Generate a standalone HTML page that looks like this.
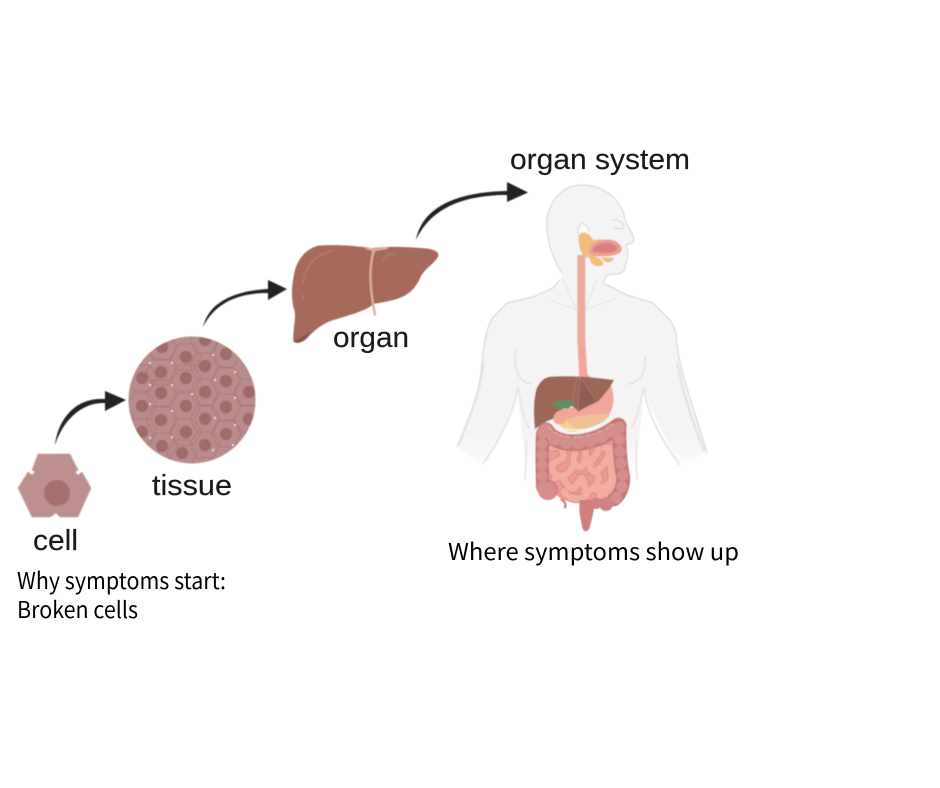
<!DOCTYPE html>
<html>
<head>
<meta charset="utf-8">
<style>
html,body{margin:0;padding:0;background:#fff;width:940px;height:788px;overflow:hidden}
svg{display:block}
.l{font-family:"Liberation Sans",sans-serif;font-size:29px;fill:#1a1a1a;stroke:#1a1a1a;stroke-width:.15}
.n{font-family:"Noto Sans CJK JP","Liberation Sans",sans-serif;font-size:23px;fill:#000}
</style>
</head>
<body>
<svg width="940" height="788" viewBox="0 0 940 788" xmlns="http://www.w3.org/2000/svg">
<defs>
<linearGradient id="fade" x1="0" y1="0" x2="0" y2="1">
<stop offset="0" stop-color="#f4f4f4"/><stop offset=".84" stop-color="#f4f4f4"/><stop offset="1" stop-color="#fff"/>
</linearGradient>
<clipPath id="tc"><circle cx="192" cy="400" r="63.5"/></clipPath>
<polygon id="hx" points="-15,0 -8,-13 8,-13 15,0 8,13 -8,13" fill="none" stroke="#a87b7a" stroke-width=".9"/>
<circle id="nu" r="6.2" fill="#a06c6b"/>
<filter id="sb"><feGaussianBlur stdDeviation="0.45"/></filter>
<filter id="bb" x="-50%" y="-50%" width="200%" height="200%"><feGaussianBlur stdDeviation="3"/></filter>
</defs>

<g filter="url(#sb)">
<!-- Arrows -->
<g fill="#222">
<path d="M55 445C58 420 75 397 105 399L105 391 126 400 105 411 105 403C82 402 63 420 55 445Z"/>
<path d="M203 327C208 305 230 291 268 289L268 280 287 289 268 300 268 293C235 293 214 305 203 327Z"/>
<path d="M416 240C422 208 455 192 507 191L507 182 528 192.500 507 202 507 195C460 195 430 210 416 240Z"/>
</g>

<!-- Cell -->
<path d="M38 454H70L78 470 75 472 78 475 82 472 91 488 78 517H60L56 513 50 517H32L18 488 28 472 32 475 35 472 32 470Z" fill="#bd8f8e" stroke="#c9a3a2" stroke-width="1" stroke-dasharray="2 1"/>
<circle cx="57" cy="493" r="13" fill="#a5716f"/>

<!-- Tissue -->
<circle cx="192" cy="400" r="63.500" fill="#b98c8b"/>
<g clip-path="url(#tc)">
<use href="#hx" x="162" y="347"/><use href="#hx" x="205" y="340"/><use href="#hx" x="186" y="357"/><use href="#hx" x="226" y="354"/>
<use href="#hx" x="205" y="366"/><use href="#hx" x="161" y="372"/><use href="#hx" x="142" y="378"/><use href="#hx" x="186" y="378"/>
<use href="#hx" x="226" y="381"/><use href="#hx" x="161" y="393"/><use href="#hx" x="205" y="392"/><use href="#hx" x="249" y="392"/>
<use href="#hx" x="142" y="406"/><use href="#hx" x="186" y="406"/><use href="#hx" x="226" y="407"/><use href="#hx" x="205" y="419"/>
<use href="#hx" x="161" y="420"/><use href="#hx" x="249" y="419"/><use href="#hx" x="142" y="432"/><use href="#hx" x="186" y="432"/>
<use href="#hx" x="226" y="434"/><use href="#hx" x="205" y="445"/><use href="#hx" x="162" y="446"/><use href="#hx" x="182" y="453"/>
<use href="#nu" x="162" y="347"/><use href="#nu" x="205" y="340"/><use href="#nu" x="186" y="357"/><use href="#nu" x="226" y="354"/>
<use href="#nu" x="205" y="366"/><use href="#nu" x="161" y="372"/><use href="#nu" x="142" y="378"/><use href="#nu" x="186" y="378"/>
<use href="#nu" x="226" y="381"/><use href="#nu" x="161" y="393"/><use href="#nu" x="205" y="392"/><use href="#nu" x="249" y="392"/>
<use href="#nu" x="142" y="406"/><use href="#nu" x="186" y="406"/><use href="#nu" x="226" y="407"/><use href="#nu" x="205" y="419"/>
<use href="#nu" x="161" y="420"/><use href="#nu" x="249" y="419"/><use href="#nu" x="142" y="432"/><use href="#nu" x="186" y="432"/>
<use href="#nu" x="226" y="434"/><use href="#nu" x="205" y="445"/><use href="#nu" x="162" y="446"/><use href="#nu" x="182" y="453"/>
</g>
<g fill="#f4eeee">
<circle cx="150" cy="363" r="1"/><circle cx="172" cy="363" r="1"/><circle cx="150" cy="385" r="1"/><circle cx="172" cy="385" r="1"/>
<circle cx="213" cy="355" r="1"/><circle cx="235" cy="372" r="1"/><circle cx="215" cy="380" r="1"/><circle cx="235" cy="398" r="1"/>
<circle cx="150" cy="404" r="1"/><circle cx="172" cy="411" r="1"/><circle cx="192" cy="394" r="1"/><circle cx="215" cy="418" r="1"/>
<circle cx="235" cy="425" r="1"/><circle cx="150" cy="438" r="1"/><circle cx="172" cy="437" r="1"/><circle cx="213" cy="450" r="1"/><circle cx="233" cy="445" r="1"/>
</g>

<!-- Big liver -->
<g transform="translate(190,180) scale(.33333)">
<path d="M385 197C440 193 500 197 545 205 590 198 650 200 705 205 730 207 748 215 745 228 735 250 705 265 692 290 680 320 660 345 620 357 595 365 570 368 550 372 530 392 480 405 430 420 395 432 375 450 350 475 335 490 315 492 310 483 308 450 318 420 314 395 303 360 303 320 315 270 325 235 350 205 385 197Z" fill="#a66a5d"/>
<path d="M350 475C335 490 315 492 310 483 330 478 345 465 365 450Z" fill="#8f5247"/>
<path d="M530 204 550 210 590 204M552 210C535 265 540 330 555 404" fill="none" stroke="#deb195" stroke-width="7" stroke-linecap="round"/>
<path d="M340 310C345 260 375 222 432 212M340 345V362M578 240C585 228 598 222 612 222" fill="none" stroke="#b5806f" stroke-width="3.500" stroke-linecap="round"/>
</g>

<!-- Human body -->
<path d="M582 185C600 185 617 195 624 214 625 222 628 226 630 230 634 236 635 240 632 243L626 245 628 253C627 258 627 262 625 265 626 270 622 274 616 274 610 274 606 273 603 283L627 295 653 303 670 320C675 327 677 335 677 345 680 372 693 405 707 453L680 467C668 440 650 412 644 388 642 415 637 450 637 482H525C525 450 520 420 517 388 512 415 495 445 482 465L457 447C470 415 478 395 481 372 483 350 485 330 493 317L507 303 533 297 553 288 560 280 562 273C552 258 545 235 547 218 551 198 564 185 582 185Z" fill="url(#fade)"/>
<g fill="none" stroke="#d2d2d2" stroke-width="1">
<path d="M562 273C552 258 545 235 547 218 551 198 564 185 582 185 600 185 617 195 624 214 625 222 628 226 630 230 634 236 635 240 632 243L626 245 628 253C627 258 627 262 625 265 626 270 622 274 616 274 610 274 606 273 603 283"/>
<path d="M560 280 553 288 533 297 507 303 493 317C485 330 483 350 481 372 478 395 470 415 457 447"/>
<path d="M603 283 627 295 653 303 670 320C675 327 677 335 677 345 680 372 693 405 707 453"/>
<path d="M612 220C618 219 622 222 624 226M614 226C617 230 621 229 624 228"/>
</g>
<path d="M563 279 577 310 550 300M597 279 585 310 617 298" fill="none" stroke="#e2e2e2" stroke-width="1"/>
<path d="M580 240C574 222 586 218 589 232" fill="#fbfbfb" stroke="#d4d4d4" stroke-width="1"/>
<g transform="translate(440,340) scale(.33333)" fill="none" stroke="#e2e2e2" stroke-linecap="round">
<path d="M225 30C222 60 230 100 238 108 248 125 260 130 272 130" stroke-width="5"/>
<path d="M615 50C618 80 610 105 602 112 590 125 578 130 565 132" stroke-width="5"/>
<path d="M130 70C125 130 100 210 55 315" stroke-width="7"/>
<path d="M712 70C725 140 750 230 792 330" stroke-width="7"/>
<path d="M232 145C225 210 180 300 130 370" stroke-width="5"/>
<path d="M612 145C620 220 670 310 720 375" stroke-width="5"/>
<path d="M235 145C245 200 255 250 268 265M258 300C262 340 255 380 255 420M610 145C600 200 590 240 575 262M590 300C585 340 592 380 590 420" stroke-width="4"/>
</g>
<path d="M450 455 486 473M678 473 714 458" stroke="#fff" stroke-width="12" filter="url(#bb)"/>

<!-- Mouth, glands -->
<g transform="translate(440,140) scale(.33333)">
<path d="M420 282C435 270 450 285 460 300 490 295 530 300 545 322 550 340 530 350 480 350 450 350 440 355 435 350 420 340 410 300 420 282Z" fill="#f0bd7d"/>
<path d="M448 340C445 312 475 298 505 298 535 300 550 320 542 335 530 348 465 352 448 340Z" fill="#eaa09a"/>
<path d="M458 334C458 318 480 308 505 308 525 310 535 322 530 332 510 340 480 340 458 334Z" fill="#dc7f80"/>
<path d="M447 352C465 345 485 355 490 370 488 382 465 380 455 370ZM482 352 522 354C520 365 505 370 495 365Z" fill="#f0bd7d"/>
<path d="M424 345V610" fill="none" stroke="#efaaa0" stroke-width="24"/>
</g>

<!-- Digestive -->
<g transform="translate(440,340) scale(.33333)">
<path d="M412 0H436L442 100C445 110 452 115 510 130 525 160 525 200 505 225 480 255 410 270 375 255 350 250 338 225 350 210 370 205 420 205 445 180 425 150 415 120 417 100Z" fill="#f0a79a"/>
<path d="M358 252C385 228 450 222 510 222 500 250 440 270 400 272 385 272 365 265 358 252Z" fill="#f1c195"/>
<path d="M355 250C365 232 372 235 378 238 385 255 405 265 420 270 400 282 370 272 355 250Z" fill="#f0d586"/>
<path d="M330 110C390 107 450 110 522 120 510 145 490 165 475 185 455 190 430 200 415 215L400 200C380 195 360 205 345 235 325 240 305 250 285 268 280 220 280 180 290 145 300 125 312 113 330 110Z" fill="#9c6658"/>
<path d="M410 112C405 140 400 165 395 195M420 112 472 185 414 215Z" fill="#8a5a4f" stroke="#b79070" stroke-width="1.500" fill-opacity=".7"/>
<path d="M340 195C345 178 375 178 395 185 395 200 380 210 350 205Z" fill="#5d8e65"/>
<path d="M380 205 405 185" stroke="#5d8e65" stroke-width="7" fill="none"/>
<path d="M340 240C340 215 360 205 385 210 380 225 370 235 378 245 365 255 345 258 340 240Z" fill="#f0a79a"/>

<!-- small intestine -->
<path d="M325 310C380 300 460 300 535 300 545 350 565 410 530 460 500 490 430 490 370 480 330 460 315 400 320 340Z" fill="#ec9c91"/>
<g fill="none" stroke-linecap="round" stroke-linejoin="round" stroke="#e08a80" stroke-width="28">
<path id="a" d="M338 322C358 308 382 345 366 356S326 366 340 394 385 405 395 385"/>
<path id="b" d="M395 322C420 332 386 356 410 376S440 346 435 325"/>
<path id="c" d="M472 322C482 350 446 350 450 380S490 385 505 350 495 325 495 325"/>
<path id="d" d="M522 325C535 350 505 370 515 400S495 440 470 450"/>
<path id="e" d="M345 415C375 396 375 440 395 445S420 396 430 420 425 465 450 450 482 412 470 400"/>
<path id="f" d="M372 456C390 480 420 480 440 466M480 466C500 466 520 450 527 420"/>
</g>
<g fill="none" stroke="#f3aca0" stroke-width="21" stroke-linecap="round" stroke-linejoin="round">
<use href="#a"/><use href="#b"/><use href="#c"/><use href="#d"/><use href="#e"/><use href="#f"/>
</g>

<!-- colon -->
<circle cx="324" cy="450" r="30" fill="#cf7f7e"/>
<path d="M420 480H460C466 510 456 530 450 560 446 578 430 580 426 560 422 530 414 510 420 480Z" fill="#cf7f7e"/>
<path d="M362 478C372 482 380 490 374 505" fill="none" stroke="#cf7f7e" stroke-width="7"/>
<g fill="none" stroke-linecap="round" stroke-linejoin="round">
<path d="M318 272C345 320 450 325 535 258" stroke="#c67876" stroke-width="50"/>
<path d="M308 280C304 340 307 400 308 440" stroke="#c67876" stroke-width="40"/>
<path d="M538 262C538 320 540 370 550 410 550 440 540 465 522 478" stroke="#c67876" stroke-width="42"/>
<path d="M318 272C345 320 450 325 535 258" stroke="#d68e8b" stroke-width="42" stroke-dasharray="0 36"/>
<path d="M308 280C304 340 307 400 308 440" stroke="#d68e8b" stroke-width="33" stroke-dasharray="0 32"/>
<path d="M538 262C538 320 540 370 550 410 550 440 540 465 522 478" stroke="#d68e8b" stroke-width="35" stroke-dasharray="0 36"/>
<path d="M325 262C360 302 450 304 525 250" stroke="#efc1bb" stroke-width="2" stroke-dasharray="12 8"/>
</g>
<circle cx="498" cy="492" r="21" fill="#cd8381"/>
<circle cx="468" cy="490" r="17" fill="#cd8381"/>
<circle cx="324" cy="452" r="26" fill="#d68e8b"/>
<path d="M375 265C395 272 440 271 455 264" stroke="#fff" stroke-width="3" fill="none"/>
</g>
</g>

<text class="l" x="510" y="169" textLength="180" lengthAdjust="spacingAndGlyphs">organ system</text>
<text class="l" x="333" y="347" textLength="76" lengthAdjust="spacingAndGlyphs">organ</text>
<text class="l" x="152" y="495" textLength="80" lengthAdjust="spacingAndGlyphs">tissue</text>
<text class="l" x="33" y="550" textLength="45" lengthAdjust="spacingAndGlyphs">cell</text>

<text class="n" x="17" y="589" textLength="209" lengthAdjust="spacingAndGlyphs">Why symptoms start:</text>
<text class="n" x="17" y="618" textLength="121" lengthAdjust="spacingAndGlyphs">Broken cells</text>
<text class="n" x="448" y="560" textLength="291" lengthAdjust="spacingAndGlyphs">Where symptoms show up</text>
</svg>
</body>
</html>
